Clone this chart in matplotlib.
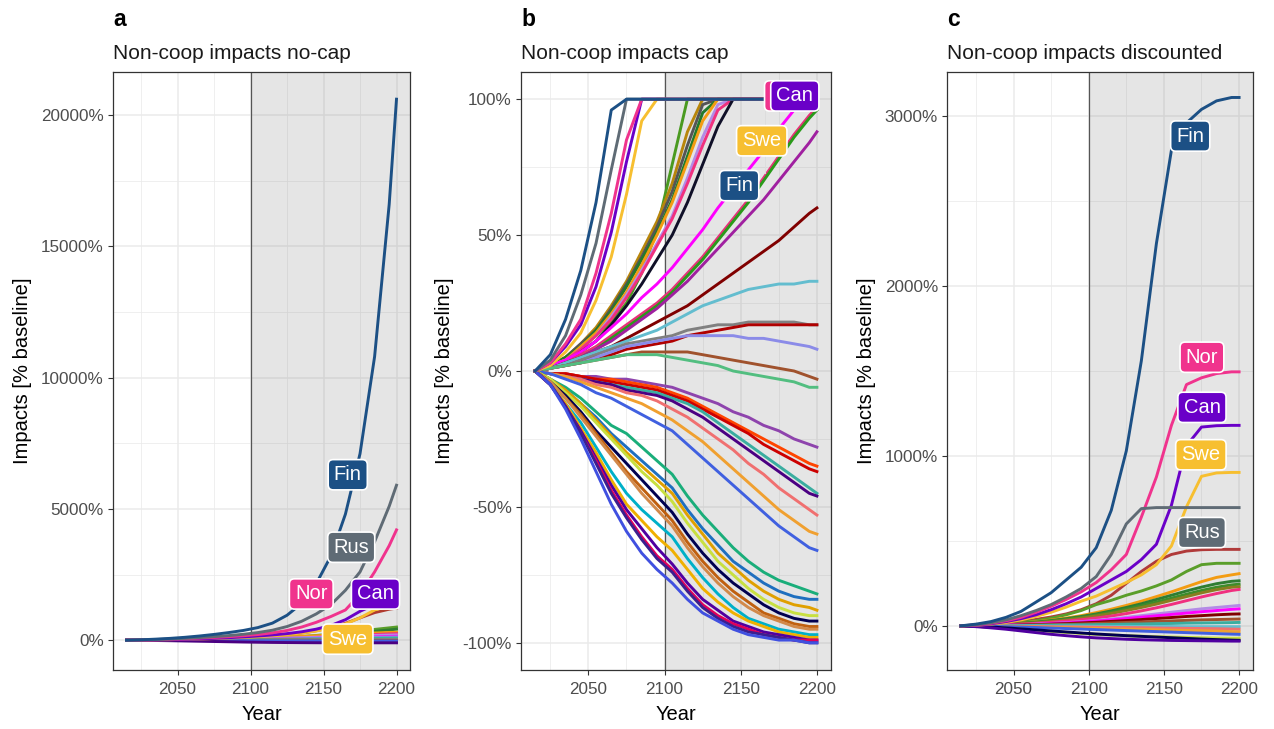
import matplotlib
matplotlib.use("Agg")
import matplotlib.pyplot as plt
from matplotlib.ticker import FuncFormatter, FixedLocator

plt.rcParams['font.family'] = ['Liberation Sans', 'DejaVu Sans']

W, H = 1274, 729

YEARS = [2015, 2025, 2035, 2045, 2055, 2065, 2075, 2085, 2095, 2105,
         2115, 2125, 2135, 2145, 2155, 2165, 2175, 2185, 2195, 2200]

# labelled countries
COL = {'Fin': '#1c5085', 'Rus': '#5f6b75', 'Nor': '#f0338d',
       'Can': '#6a00c8', 'Swe': '#f7bf30'}

# ---- panel a: no-cap
fin_a = [0, 15, 40, 70, 110, 160, 220, 290, 370, 480, 650, 950, 1400, 2150, 3200, 4800, 7100, 10800, 16600, 20600]
rus_a = [0, 10, 25, 45, 70, 100, 135, 175, 225, 290, 380, 520, 720, 1000, 1350, 1900, 2600, 3750, 5100, 5900]
nor_a = [0, 8, 20, 35, 55, 80, 105, 135, 170, 215, 280, 370, 500, 680, 900, 1150, 1750, 2600, 3600, 4200]
can_a = [0, 5, 12, 22, 35, 50, 70, 95, 125, 160, 200, 250, 320, 420, 560, 780, 1100, 1350, 1500, 1550]
swe_a = [0, 5, 12, 20, 32, 45, 62, 82, 105, 135, 170, 215, 270, 350, 460, 620, 850, 1150, 1300, 1350]

a_colors = ['#b03a2e', '#5a9e2a', '#2e7d32', '#f39c12', '#f0307f', '#b38be6', '#ff00ff',
            '#9b8be8', '#3aada0', '#63bdcf', '#a0522d', '#c8e040', '#4060e0', '#4b0082']
a_lines = [
    [0, 3, 8, 14, 22, 32, 45, 62, 84, 112, 150, 200, 270, 360, 480, 640, 850, 1050, 1180, 1220],
    [0, 2, 5, 9, 14, 20, 28, 38, 50, 65, 85, 110, 140, 180, 230, 290, 350, 410, 470, 500],
    [0, 2, 4, 8, 12, 17, 24, 32, 42, 55, 72, 92, 118, 150, 190, 240, 290, 340, 390, 420],
    [0, 3, 7, 12, 18, 26, 36, 48, 62, 80, 100, 120, 145, 170, 195, 220, 250, 275, 295, 300],
    [0, 1, 3, 6, 10, 15, 21, 28, 36, 45, 56, 70, 86, 105, 128, 155, 185, 215, 240, 250],
    [0, 2, 5, 9, 14, 20, 27, 35, 44, 54, 66, 80, 95, 110, 127, 145, 163, 180, 195, 200],
    [0, 1, 3, 5, 8, 12, 17, 22, 28, 35, 43, 52, 62, 73, 85, 98, 112, 127, 142, 150],
    [0, 1, 2, 4, 7, 10, 14, 19, 24, 30, 37, 45, 54, 63, 73, 84, 96, 107, 117, 120],
    [0, 1, 2, 4, 6, 9, 12, 16, 20, 25, 30, 36, 42, 49, 56, 63, 70, 76, 80, 82],
    [0, 0, 1, 2, 3, 5, 7, 9, 11, 13, 15, 17, 19, 21, 23, 25, 27, 28, 30, 30],
    [0, 0, 1, 1, 2, 3, 4, 5, 6, 7, 8, 9, 10, 10, 10, 10, 10, 10, 10, 10],
    [0, -1, -3, -5, -8, -12, -16, -20, -24, -28, -32, -36, -40, -44, -48, -52, -55, -58, -60, -60],
    [0, -1, -2, -4, -6, -8, -10, -12, -14, -16, -18, -20, -22, -24, -26, -27, -28, -29, -30, -30],
    [0, -5, -12, -20, -30, -40, -50, -60, -70, -78, -85, -90, -94, -97, -99, -100, -100, -100, -100, -100],
]

# ---- panel b: capped
fin_b = [0, 6, 19, 37, 62, 96] + [100] * 14
rus_b = [0, 4, 13, 28, 47, 74] + [100] * 14
nor_b = [0, 3, 10, 19, 36, 58, 85] + [100] * 13
can_b = [0, 3, 9, 17, 31, 51, 77] + [100] * 13
swe_b = [0, 2, 7, 14, 26, 42, 65, 92] + [100] * 12

b_colors = ['#4a9a20', '#b8860b', '#555555', '#237a2a', '#f39c12', '#b38be6', '#f0307f',
            '#101028', '#ff00ff', '#e8307a', '#2a9a1a', '#a020a0', '#800000', '#63bdcf',
            '#808080', '#b00000', '#8b8be8', '#a0522d', '#52be80',
            '#8e44ad', '#ff4500', '#cc0000', '#3aada0', '#4b0082', '#f07070', '#f0a030',
            '#4060e0', '#1aae7a', '#1f6fbf', '#e0a000', '#c8e040', '#000050', '#c06010',
            '#d2894a', '#00b0c8', '#f0b000', '#5000a0', '#e0005a', '#3b1f8f', '#4050e0']
b_lines = [
    [0, 2, 5, 9, 13, 18, 25, 36, 52, 76] + [100] * 10,
    [0, 2, 5, 10, 16, 24, 33, 44, 55, 69, 88] + [100] * 9,
    [0, 2, 5, 10, 15, 23, 32, 42, 53, 66, 83, 98] + [100] * 8,
    [0, 2, 5, 9, 15, 22, 31, 41, 51, 63, 79, 95] + [100] * 8,
    [0, 2, 4, 9, 14, 21, 29, 39, 50, 62, 77, 92] + [100] * 8,
    [0, 2, 4, 8, 13, 20, 28, 37, 47, 57, 71, 86, 98] + [100] * 7,
    [0, 2, 4, 8, 13, 19, 27, 36, 46, 56, 69, 83, 96] + [100] * 7,
    [0, 1, 3, 7, 11, 17, 24, 32, 41, 50, 62, 76, 90] + [100] * 7,
    [0, 2, 4, 7, 11, 16, 21, 27, 32, 38, 45, 52, 60, 67, 74, 81, 89, 96, 100, 100],
    [0, 1, 3, 6, 9, 13, 17, 21, 25, 30, 36, 42, 49, 56, 63, 71, 79, 87, 94, 97],
    [0, 1, 3, 5, 8, 12, 16, 20, 24, 29, 35, 41, 48, 55, 62, 70, 78, 86, 93, 96],
    [0, 1, 3, 5, 8, 11, 15, 19, 23, 28, 33, 39, 45, 51, 57, 63, 70, 77, 84, 88],
    [0, 1, 3, 5, 7, 9, 12, 15, 18, 21, 24, 28, 32, 36, 40, 44, 48, 53, 58, 60],
    [0, 1, 3, 5, 7, 9, 11, 13, 15, 18, 21, 24, 26, 28, 30, 31, 32, 32, 33, 33],
    [0, 1, 2, 4, 6, 8, 10, 11, 12, 13, 15, 16, 17, 17, 18, 18, 18, 18, 17, 17],
    [0, 1, 2, 3, 5, 6, 8, 9, 10, 11, 13, 14, 15, 16, 17, 17, 17, 17, 17, 17],
    [0, 1, 2, 3, 5, 7, 9, 10, 11, 12, 13, 13, 13, 13, 12, 12, 11, 10, 9, 8],
    [0, 1, 2, 3, 4, 5, 6, 7, 7, 7, 7, 6, 5, 4, 3, 2, 1, 0, -2, -3],
    [0, 1, 2, 3, 4, 5, 6, 6, 6, 5, 4, 3, 2, 0, -1, -2, -3, -4, -6, -6],
    [0, -1, -1, -2, -2, -3, -3, -4, -5, -6, -8, -10, -12, -15, -17, -20, -22, -25, -27, -28],
    [0, -1, -1, -2, -3, -3, -4, -5, -6, -8, -10, -13, -16, -19, -22, -25, -28, -31, -34, -35],
    [0, -1, -1, -2, -3, -4, -5, -6, -7, -9, -11, -14, -17, -20, -23, -27, -30, -33, -36, -37],
    [0, -1, -2, -3, -4, -5, -6, -7, -8, -10, -12, -15, -19, -23, -27, -31, -35, -39, -43, -45],
    [0, -1, -2, -3, -4, -5, -7, -8, -9, -11, -14, -17, -21, -25, -29, -33, -37, -41, -45, -46],
    [0, -1, -2, -3, -5, -6, -8, -9, -11, -14, -17, -21, -25, -29, -34, -38, -43, -47, -51, -53],
    [0, -1, -2, -4, -6, -8, -10, -12, -15, -18, -22, -26, -31, -36, -41, -46, -51, -55, -59, -60],
    [0, -1, -3, -5, -8, -10, -13, -16, -19, -22, -27, -32, -37, -42, -47, -52, -57, -61, -65, -66],
    [0, -3, -6, -10, -15, -20, -23, -28, -33, -38, -46, -53, -59, -65, -70, -74, -77, -79, -81, -82],
    [0, -3, -7, -12, -17, -23, -28, -33, -38, -43, -51, -58, -64, -70, -74, -78, -81, -83, -84, -84],
    [0, -3, -7, -12, -18, -24, -30, -35, -40, -45, -53, -60, -67, -72, -77, -81, -84, -86, -87, -88],
    [0, -3, -8, -13, -19, -25, -31, -37, -42, -48, -56, -63, -70, -75, -80, -84, -87, -89, -90, -90],
    [0, -4, -9, -15, -22, -28, -34, -40, -46, -52, -60, -67, -73, -78, -82, -86, -89, -91, -92, -92],
    [0, -4, -10, -16, -23, -30, -37, -43, -49, -55, -63, -70, -76, -81, -85, -89, -91, -93, -94, -94],
    [0, -4, -10, -17, -24, -31, -38, -45, -51, -57, -65, -72, -78, -83, -87, -90, -92, -94, -95, -95],
    [0, -5, -12, -19, -28, -37, -45, -51, -56, -61, -69, -76, -82, -87, -91, -93, -95, -96, -97, -97],
    [0, -5, -12, -21, -30, -40, -49, -55, -61, -66, -73, -80, -85, -89, -92, -94, -96, -97, -98, -98],
    [0, -5, -13, -22, -32, -42, -51, -58, -65, -71, -78, -84, -88, -92, -94, -96, -97, -98, -99, -99],
    [0, -5, -13, -23, -33, -44, -53, -61, -68, -73, -80, -86, -90, -93, -95, -97, -98, -99, -99, -99],
    [0, -5, -13, -23, -34, -45, -54, -62, -69, -74, -81, -87, -91, -94, -96, -97, -98, -99, -100, -100],
    [0, -5, -14, -25, -37, -49, -59, -67, -73, -78, -84, -89, -92, -95, -97, -98, -99, -99, -100, -100],
]

# ---- panel c: discounted
fin_c = [0, 10, 25, 50, 85, 140, 195, 270, 345, 460, 680, 1030, 1560, 2250, 2800, 2960, 3040, 3090, 3110, 3110]
rus_c = [0, 6, 18, 35, 60, 90, 125, 170, 220, 290, 420, 600, 690, 696, 696, 696, 696, 696, 696, 696]
nor_c = [0, 5, 15, 30, 50, 80, 115, 155, 200, 255, 330, 420, 640, 876, 1180, 1420, 1460, 1485, 1495, 1495]
can_c = [0, 4, 12, 25, 42, 65, 95, 130, 170, 220, 270, 320, 390, 480, 710, 1060, 1170, 1178, 1180, 1180]
swe_c = [0, 3, 10, 20, 35, 55, 80, 110, 145, 175, 215, 255, 300, 360, 470, 700, 880, 900, 903, 903]

c_colors = ['#b03a3a', '#5a9e2a', '#f39c12', '#2e7d32', '#3d8c2a', '#8a7d20', '#f0307f',
            '#b38be6', '#ff00ff', '#800000', '#a0522d', '#3aada0', '#63bdcf', '#f07070',
            '#f0a030', '#4060e0', '#c8e040', '#000050', '#5000a0']
c_lines = [
    [0, 3, 8, 15, 25, 38, 52, 70, 95, 130, 180, 250, 320, 380, 420, 440, 448, 450, 450, 450],
    [0, 2, 6, 12, 20, 30, 45, 65, 90, 125, 150, 180, 205, 235, 270, 320, 360, 368, 368, 368],
    [0, 2, 5, 10, 16, 24, 34, 46, 60, 78, 98, 120, 145, 172, 200, 230, 260, 285, 300, 307],
    [0, 2, 5, 9, 15, 22, 31, 42, 55, 70, 88, 108, 130, 155, 180, 205, 228, 248, 262, 265],
    [0, 1, 4, 8, 13, 20, 28, 38, 50, 64, 80, 98, 118, 140, 163, 186, 208, 227, 241, 245],
    [0, 1, 3, 7, 12, 18, 25, 34, 45, 58, 73, 90, 108, 128, 150, 172, 194, 213, 227, 230],
    [0, 1, 3, 6, 10, 15, 21, 28, 36, 46, 58, 72, 88, 106, 126, 148, 170, 190, 208, 214],
    [0, 1, 2, 4, 7, 10, 14, 19, 25, 32, 40, 50, 60, 70, 80, 90, 100, 108, 116, 120],
    [0, 1, 2, 4, 6, 9, 13, 17, 22, 28, 35, 43, 51, 59, 67, 75, 83, 90, 97, 100],
    [0, 1, 2, 3, 5, 7, 10, 13, 17, 21, 26, 31, 37, 43, 49, 55, 60, 65, 69, 70],
    [0, 0, 1, 2, 3, 5, 7, 9, 11, 14, 17, 20, 23, 26, 29, 32, 35, 37, 39, 40],
    [0, 0, 1, 1, 2, 3, 4, 5, 6, 7, 8, 10, 11, 13, 14, 16, 17, 18, 19, 20],
    [0, 0, 0, -1, -1, -1, -2, -2, -2, -3, -3, -3, -4, -4, -4, -5, -5, -5, -5, -5],
    [0, 0, -1, -2, -3, -4, -5, -6, -7, -8, -9, -10, -11, -13, -14, -15, -16, -17, -19, -20],
    [0, -1, -2, -3, -5, -7, -9, -11, -13, -15, -17, -19, -21, -23, -25, -27, -29, -31, -34, -35],
    [0, -1, -3, -5, -7, -10, -13, -16, -19, -22, -25, -28, -31, -34, -37, -40, -43, -46, -49, -50],
    [0, -3, -8, -14, -20, -27, -33, -39, -45, -50, -54, -58, -61, -64, -66, -68, -70, -72, -73, -73],
    [0, -3, -7, -12, -18, -24, -30, -36, -42, -48, -53, -58, -62, -66, -70, -74, -78, -81, -84, -85],
    [0, -5, -12, -20, -30, -40, -50, -58, -65, -71, -75, -79, -82, -84, -86, -87, -88, -89, -90, -90],
]

LW = 2.1
XLIM = (2005.75, 2209.25)


def pct(v, p):
    return f'{v:.0f}%'


def make_axes(left, right, letter, title, ylim, yticks, yminor, ylabel_x):
    ax = fig.add_axes([left / W, (H - 670) / H, (right - left) / W, 598 / H])
    ax.set_xlim(*XLIM)
    ax.set_ylim(*ylim)
    ax.xaxis.set_major_locator(FixedLocator([2050, 2100, 2150, 2200]))
    ax.xaxis.set_minor_locator(FixedLocator([2025, 2075, 2125, 2175]))
    ax.yaxis.set_major_locator(FixedLocator(yticks))
    ax.yaxis.set_minor_locator(FixedLocator(yminor))
    ax.yaxis.set_major_formatter(FuncFormatter(pct))
    ax.grid(True, which='major', color='#ebebeb', lw=1.1, zorder=0)
    ax.grid(True, which='minor', color='#ebebeb', lw=0.55, zorder=0)
    ax.set_axisbelow(True)
    ax.tick_params(which='major', length=3.5, width=0.8, color='#333333',
                   labelcolor='#4d4d4d', labelsize=12.3, pad=3)
    ax.tick_params(axis='x', which='major', pad=5)
    ax.tick_params(which='minor', length=0)
    for s in ax.spines.values():
        s.set_color('#333333')
        s.set_linewidth(0.9)
    ax.axvspan(2100, 2300, color='#808080', alpha=0.2, lw=0, zorder=1)
    ax.axvline(2100, color='#555555', lw=0.9, zorder=1.5)
    ax.set_xlabel('Year', fontsize=14.5, labelpad=6)
    ax.set_ylabel('Impacts [% baseline]', fontsize=14.5)
    ax.yaxis.set_label_coords((ylabel_x - left) / (right - left), 0.5)
    fig.text(left / W, 1 - 26 / H, letter, fontsize=16.5, fontweight='bold', va='baseline')
    fig.text(left / W, 1 - 59 / H, title, fontsize=15, va='baseline', color='#1a1a1a')
    return ax


def label(ax, x, y, name, z=10):
    ax.text(x, y, name, ha='center', va='center', color='white', fontsize=14.5, zorder=z,
            bbox=dict(boxstyle='round,pad=0.28,rounding_size=0.25', fc=COL[name], ec='white', lw=1.2))


fig = plt.figure(figsize=(W / 100, H / 100), dpi=100)

# panel a
ax = make_axes(113, 410, 'a', 'Non-coop impacts no-cap', (-1135, 21635),
               [0, 5000, 10000, 15000, 20000], [2500, 7500, 12500, 17500], 32)
for vals, c in zip(a_lines, a_colors):
    ax.plot(YEARS, vals, color=c, lw=LW, zorder=2)
for name, vals in [('Swe', swe_a), ('Can', can_a), ('Nor', nor_a), ('Rus', rus_a), ('Fin', fin_a)]:
    ax.plot(YEARS, vals, color=COL[name], lw=LW, zorder=3)
label(ax, 2166.6, 6300, 'Fin')
label(ax, 2169, 3540, 'Rus')
label(ax, 2141.6, 1760, 'Nor')
label(ax, 2185.6, 1760, 'Can')
label(ax, 2166.6, 40, 'Swe')

# panel b
ax = make_axes(521, 831, 'b', 'Non-coop impacts cap', (-110, 110),
               [-100, -50, 0, 50, 100], [-75, -25, 25, 75], 454)
for vals, c in zip(b_lines, b_colors):
    ax.plot(YEARS, vals, color=c, lw=LW, zorder=2)
for name, vals in [('Swe', swe_b), ('Can', can_b), ('Nor', nor_b), ('Rus', rus_b), ('Fin', fin_b)]:
    ax.plot(YEARS, vals, color=COL[name], lw=LW, zorder=3)
ax.plot([2166, 2166], [73, 96], color='#dddddd', lw=0.7, zorder=9)
label(ax, 2180, 101.2, 'Nor', z=10)
label(ax, 2185.5, 101.2, 'Can', z=11)
label(ax, 2163.8, 84.7, 'Swe')
label(ax, 2149, 68.2, 'Fin')

# panel c
ax = make_axes(947, 1253, 'c', 'Non-coop impacts discounted', (-260, 3260),
               [0, 1000, 2000, 3000], [500, 1500, 2500], 876)
for vals, c in zip(c_lines, c_colors):
    ax.plot(YEARS, vals, color=c, lw=LW, zorder=2)
for name, vals in [('Swe', swe_c), ('Can', can_c), ('Nor', nor_c), ('Rus', rus_c), ('Fin', fin_c)]:
    ax.plot(YEARS, vals, color=COL[name], lw=LW, zorder=3)
label(ax, 2167.5, 2883, 'Fin')
label(ax, 2175.3, 1581, 'Nor')
label(ax, 2175.3, 1286, 'Can')
label(ax, 2174.6, 1007, 'Swe')
label(ax, 2175.3, 549, 'Rus')

fig.savefig('out.png', dpi=100)
